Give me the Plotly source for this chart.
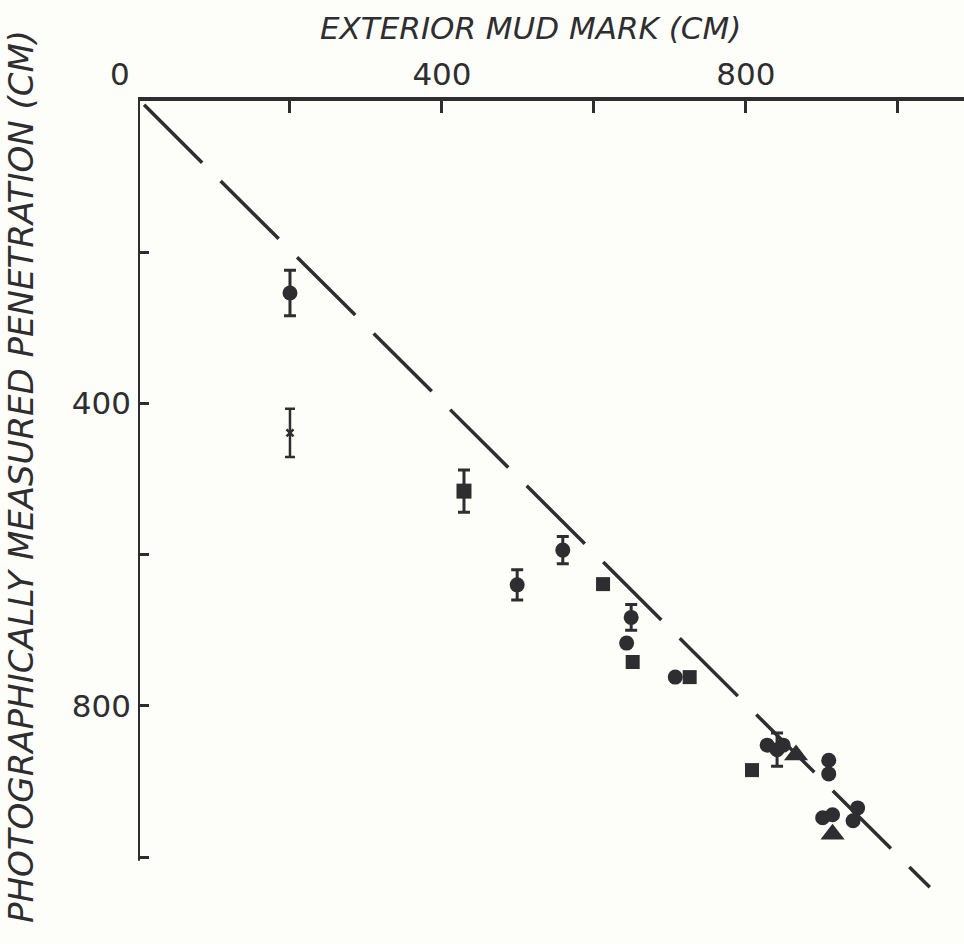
import plotly.graph_objects as go

# ---- data (cm) ----
x_ticks = [200, 400, 600, 800, 1000]
x_tick_text = ["", "400", "", "800", ""]
y_ticks = [200, 400, 600, 800, 1000]
y_tick_text = ["", "400", "", "800", ""]

line_x = [8, 1042]
line_y = [5, 1040]

circ_err_x = [200, 559, 499, 649, 841]
circ_err_y = [254, 594, 640, 683, 858]
circ_err_e = [30, 18, 20, 17, 22]

circ_x = [643, 707, 828, 849, 909, 909, 901, 914, 947, 941]
circ_y = [717, 762, 852, 852, 872, 890, 948, 944, 935, 952]

sq_err_x = [429]
sq_err_y = [516]
sq_err_e = [28]

sq_x = [612, 651, 726, 808]
sq_y = [639, 742, 762, 885]

tri_x = [866, 914]
tri_y = [865, 970]

cross_x = [200]
cross_y = [439]
cross_e = [32]

INK = "#2e2e30"
BG = "#fdfdf9"

# plot-area geometry (px) used to place the free-standing labels
L, T, W, H = 138, 101, 964 - 138, 944 - 101


def px_to_paper(px, py):
    return (px - L) / W, (944 - py) / H


fig = go.Figure()

fig.add_trace(go.Scatter(x=line_x, y=line_y, mode="lines",
                         line=dict(color=INK, width=3.5, dash="82px,26px"),
                         showlegend=False, hoverinfo="skip"))

err_style = dict(type="data", visible=True, color=INK, thickness=3, width=6)

fig.add_trace(go.Scatter(x=circ_err_x, y=circ_err_y, mode="markers",
                         marker=dict(symbol="circle", size=15, color=INK),
                         error_y=dict(array=circ_err_e, **err_style),
                         showlegend=False))
fig.add_trace(go.Scatter(x=circ_x, y=circ_y, mode="markers",
                         marker=dict(symbol="circle", size=15, color=INK),
                         showlegend=False))
fig.add_trace(go.Scatter(x=sq_err_x, y=sq_err_y, mode="markers",
                         marker=dict(symbol="square", size=15, color=INK),
                         error_y=dict(array=sq_err_e, **err_style),
                         showlegend=False))
fig.add_trace(go.Scatter(x=sq_x, y=sq_y, mode="markers",
                         marker=dict(symbol="square", size=14, color=INK),
                         showlegend=False))
fig.add_trace(go.Scatter(x=tri_x, y=tri_y, mode="markers",
                         marker=dict(symbol="triangle-up", size=21, color=INK),
                         showlegend=False))
fig.add_trace(go.Scatter(x=cross_x, y=cross_y, mode="markers",
                         marker=dict(symbol="x-thin", size=7, color=INK,
                                     line=dict(color=INK, width=2.5)),
                         error_y=dict(array=cross_e, type="data", visible=True,
                                      color=INK, thickness=2.5, width=5),
                         showlegend=False))

# y-axis line (ends at ~1005 cm)
fig.add_shape(type="line", xref="x", yref="y", x0=0, x1=0, y0=0, y1=1005,
              line=dict(color=INK, width=4))

fig.update_xaxes(side="top", range=[0, 1087], showgrid=False, zeroline=False,
                 showline=True, linecolor=INK, linewidth=4,
                 tickmode="array", tickvals=x_ticks, ticktext=x_tick_text,
                 ticks="inside", ticklen=12, tickwidth=3, tickcolor=INK,
                 tickfont=dict(family="DejaVu Sans", size=31, color=INK),
                 ticklabelstandoff=0)
fig.update_yaxes(range=[1115, 0], showgrid=False, zeroline=False, showline=False,
                 tickmode="array", tickvals=y_ticks, ticktext=y_tick_text,
                 ticks="inside", ticklen=11, tickwidth=3, tickcolor=INK,
                 tickfont=dict(family="DejaVu Sans", size=31, color=INK),
                 ticklabelstandoff=6)

ax, ay = px_to_paper(530, 28)
fig.add_annotation(x=ax, y=ay, xref="paper", yref="paper",
                   xanchor="center", yanchor="middle",
                   text="<i>EXTERIOR MUD MARK (CM)</i>", showarrow=False,
                   font=dict(family="DejaVu Sans", size=31, color=INK))
bx, by = px_to_paper(21, 477)
fig.add_annotation(x=bx, y=by, xref="paper", yref="paper", textangle=-90,
                   xanchor="center", yanchor="middle",
                   text="<i>PHOTOGRAPHICALLY MEASURED PENETRATION (CM)</i>",
                   showarrow=False,
                   font=dict(family="DejaVu Sans", size=34, color=INK))
zx, zy = px_to_paper(120, 74)
fig.add_annotation(x=zx, y=zy, xref="paper", yref="paper", text="0",
                   xanchor="center", yanchor="middle",
                   showarrow=False,
                   font=dict(family="DejaVu Sans", size=31, color=INK))

fig.update_layout(width=964, height=944, paper_bgcolor=BG, plot_bgcolor=BG,
                  margin=dict(l=L, r=0, t=T, b=0))

fig.write_html("out.html")
